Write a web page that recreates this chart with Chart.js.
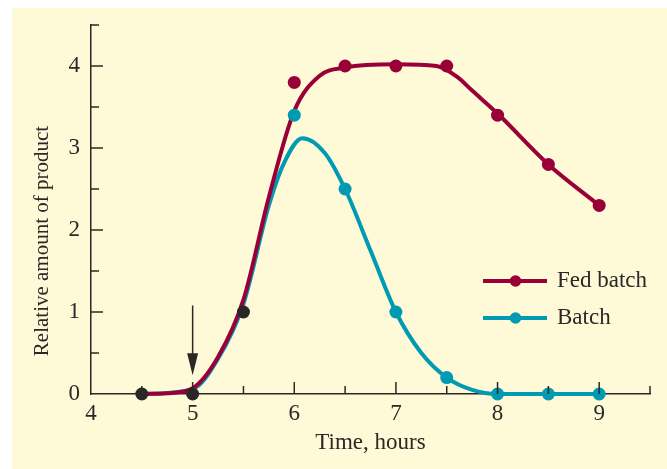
<!DOCTYPE html>
<html>
<head>
<meta charset="utf-8">
<script src="https://cdn.jsdelivr.net/npm/chart.js@4/dist/chart.umd.min.js"></script>
<style>
  html, body { margin: 0; padding: 0; background: #fff; }
  #wrap { width: 667px; height: 469px; position: relative; }
</style>
</head>
<body>
<div id="wrap"><canvas id="chart" width="667" height="469"></canvas></div>
<script>
// measured points shared by both cultures (before feeding starts)
const sharedHours = [4.5, 5, 5.5];
const sharedAmount = [0, 0, 1.0];

// measured points after 6 h
const pointHours = [6, 6.5, 7, 7.5, 8, 8.5, 9];
const fedBatchAmount = [3.8, 4.0, 4.0, 4.0, 3.4, 2.8, 2.3];
const batchAmount = [3.4, 2.5, 1.0, 0.2, 0, 0, 0];

// fitted curves
const fedCurveHours = [4.5, 4.75, 5, 5.25, 5.5, 5.75, 6, 6.25, 6.5, 7, 7.4, 7.6, 7.75, 8, 8.5, 9];
const fedCurveAmount = [0, 0.01, 0.07, 0.45, 1.15, 2.4, 3.45, 3.88, 3.98, 4.02, 4.0, 3.87, 3.7, 3.42, 2.8, 2.3];
const batchCurveHours = [4.5, 5, 5.25, 5.5, 5.75, 5.9, 6.08, 6.3, 6.5, 6.75, 7, 7.25, 7.5, 7.75, 8, 9];
const batchCurveAmount = [0, 0.06, 0.43, 1.1, 2.3, 2.82, 3.12, 2.94, 2.5, 1.75, 1.0, 0.5, 0.2, 0.05, 0, 0];

// feeding starts here (arrow)
const feedStart = 5;
const arrowFrom = 1.08;
const arrowTo = 0.23;

const seriesNames = ["Fed batch", "Batch"];

const MAROON = "#990038";
const TEAL = "#009bb3";
const INK = "#2b2727";
const FONT = "'Liberation Serif', 'DejaVu Serif', serif";

const toXY = (xs, ys) => xs.map((x, i) => ({ x, y: ys[i] }));

const dotStyle = color => ({
  showLine: false,
  clip: false,
  pointRadius: 6.5,
  pointHoverRadius: 6.5,
  pointBackgroundColor: color,
  pointBorderWidth: 0,
});

const curveStyle = color => ({
  showLine: true,
  clip: false,
  borderColor: color,
  borderWidth: 4,
  pointRadius: 0,
  cubicInterpolationMode: "monotone",
});

// background, inward ticks, arrow, titles and legend
const decorations = {
  id: "decorations",
  beforeDraw(chart) {
    const ctx = chart.ctx;
    ctx.save();
    ctx.fillStyle = "#fefad8";
    ctx.fillRect(12, 8, chart.width - 12, chart.height - 8);
    ctx.restore();
  },
  afterDraw(chart) {
    const ctx = chart.ctx;
    const xs = chart.scales.x;
    const ys = chart.scales.y;
    const area = chart.chartArea;

    ctx.save();
    ctx.strokeStyle = INK;
    ctx.lineWidth = 1.5;

    // x ticks point up into the plot
    xs.ticks.forEach(t => {
      if (t.value <= xs.min) return;
      const px = xs.getPixelForValue(t.value);
      const len = Number.isInteger(t.value) ? 12 : 8;
      ctx.beginPath();
      ctx.moveTo(px, area.bottom);
      ctx.lineTo(px, area.bottom - len);
      ctx.stroke();
    });

    // y ticks point right into the plot
    ys.ticks.forEach(t => {
      if (t.value <= ys.min) return;
      const py = ys.getPixelForValue(t.value);
      const len = Number.isInteger(t.value) ? 12 : 8;
      ctx.beginPath();
      ctx.moveTo(area.left, py);
      ctx.lineTo(area.left + len, py);
      ctx.stroke();
    });

    // arrow where feeding starts
    const ax = xs.getPixelForValue(feedStart);
    const top = ys.getPixelForValue(arrowFrom);
    const tip = ys.getPixelForValue(arrowTo);
    ctx.beginPath();
    ctx.moveTo(ax, top);
    ctx.lineTo(ax, tip - 18);
    ctx.stroke();
    ctx.fillStyle = INK;
    ctx.beginPath();
    ctx.moveTo(ax - 5.5, tip - 22);
    ctx.lineTo(ax + 5.5, tip - 22);
    ctx.lineTo(ax, tip);
    ctx.closePath();
    ctx.fill();

    // axis titles
    ctx.fillStyle = INK;
    ctx.font = `23px ${FONT}`;
    ctx.textAlign = "center";
    ctx.textBaseline = "middle";
    ctx.fillText("Time, hours", (area.left + area.right) / 2, 443);
    ctx.save();
    ctx.font = `21px ${FONT}`;
    ctx.translate(42, 241);
    ctx.rotate(-Math.PI / 2);
    ctx.fillText("Relative amount of product", 0, 0);
    ctx.restore();

    // legend
    const rows = [
      { name: seriesNames[0], color: MAROON, y: 281 },
      { name: seriesNames[1], color: TEAL, y: 318 },
    ];
    rows.forEach(r => {
      ctx.strokeStyle = r.color;
      ctx.lineWidth = 4;
      ctx.beginPath();
      ctx.moveTo(483, r.y);
      ctx.lineTo(547, r.y);
      ctx.stroke();
      ctx.fillStyle = r.color;
      ctx.beginPath();
      ctx.arc(515.5, r.y, 5.8, 0, Math.PI * 2);
      ctx.fill();
      ctx.fillStyle = INK;
      ctx.textAlign = "left";
      ctx.fillText(r.name, 557, r.y);
    });

    ctx.restore();
  },
};

new Chart(document.getElementById("chart"), {
  type: "scatter",
  data: {
    datasets: [
      { label: "shared", data: toXY(sharedHours, sharedAmount), ...dotStyle(INK) },
      { label: seriesNames[1] + " points", data: toXY(pointHours, batchAmount), ...dotStyle(TEAL) },
      { label: seriesNames[0] + " points", data: toXY(pointHours, fedBatchAmount), ...dotStyle(MAROON) },
      { label: seriesNames[0], data: toXY(fedCurveHours, fedCurveAmount), ...curveStyle(MAROON) },
      { label: seriesNames[1], data: toXY(batchCurveHours, batchCurveAmount), ...curveStyle(TEAL) },
    ],
  },
  options: {
    responsive: false,
    animation: false,
    events: [],
    layout: { padding: { left: 0, top: 25, right: 17, bottom: 0 } },
    plugins: {
      legend: { display: false },
      tooltip: { enabled: false },
    },
    scales: {
      x: {
        type: "linear",
        min: 4,
        max: 9.5,
        afterFit: s => { s.height = 75; },
        grid: { display: true, drawOnChartArea: false, drawTicks: false },
        border: { display: true, color: INK, width: 1.5 },
        ticks: {
          stepSize: 0.5,
          padding: 6,
          color: INK,
          font: { family: FONT, size: 23 },
          maxRotation: 0,
          autoSkip: false,
          callback: v => (Number.isInteger(v) && v < 9.5 ? String(v) : ""),
        },
      },
      y: {
        type: "linear",
        min: 0,
        max: 4.5,
        afterFit: s => { s.width = 91; },
        grid: { display: true, drawOnChartArea: false, drawTicks: false },
        border: { display: true, color: INK, width: 1.5 },
        ticks: {
          stepSize: 0.5,
          padding: 11,
          color: INK,
          font: { family: FONT, size: 23 },
          autoSkip: false,
          callback: v => (Number.isInteger(v) ? String(v) : ""),
        },
      },
    },
  },
  plugins: [decorations],
});
</script>
</body>
</html>
